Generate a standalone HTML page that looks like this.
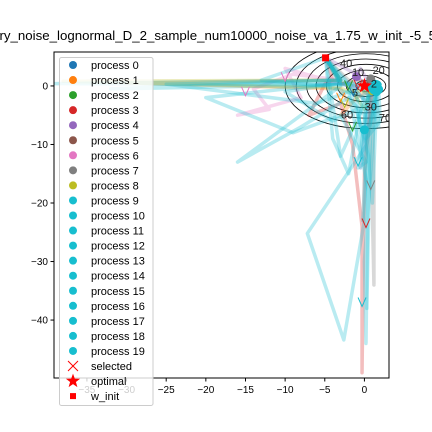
<!DOCTYPE html>
<html><head><meta charset="utf-8"><style>
html,body{margin:0;padding:0;background:#fff;}
svg{display:block;font-family:"Liberation Sans","IPAGothic",sans-serif;}
</style></head><body>
<svg id="chart" width="432" height="432" viewBox="0 0 432 432">
<text x="-44" y="40" font-size="12.5" text-anchor="start" fill="#000" textLength="480" lengthAdjust="spacingAndGlyphs">trajectory_noise_lognormal_D_2_sample_num10000_noise_va_1.75_w_init_-5_5</text>
<defs><clipPath id="plotclip"><rect x="54" y="52" width="335" height="326"/></clipPath></defs>
<g id="plot" clip-path="url(#plotclip)"></g>
<rect x="54" y="52" width="335" height="326" fill="none" stroke="#000" stroke-width="1"/>
<g id="axes"></g>
<g id="legend"></g>
</svg>
<script>
// ---- data ----
const xTicks = [-35, -30, -25, -20, -15, -10, -5, 0];
const yTicks = [0, -10, -20, -30, -40];
const contourLevels = [2, 5, 10, 20, 30, 40, 60, 70];
const contourRx = [1.3, 2.5, 3.6, 5.0, 6.3, 7.5, 8.8, 10.2];
const contourRy = [0.9, 1.8, 2.7, 3.7, 4.6, 5.5, 6.4, 7.3];
const optimal = [0, 0];
const wInit = [-4.9, 4.8];
const processColors = ['#1f77b4','#ff7f0e','#2ca02c','#d62728','#9467bd','#8c564b','#e377c2','#7f7f7f','#bcbd22','#17becf','#17becf','#17becf','#17becf','#17becf','#17becf','#17becf','#17becf','#17becf','#17becf','#17becf'];
const trajectories = [
  [[-4.9,4.8],[-3,1],[-6,0.3],[-2,0.5],[0.5,-3],[-0.5,-14],[0.3,-8],[0.8,-0.5]],
  [[-4.9,4.8],[-3,1],[-30,0.5],[-3,-0.5],[-2,-3],[-3,-5],[-1,-2],[1.5,-0.3]],
  [[-4.9,4.8],[-3,0.6],[-2,0],[-1,-2],[0,-4],[1,0.2]],
  [[-4.9,4.8],[-4,1],[-5,0.3],[-7,-5],[-3,-3],[-1.5,-10],[-0.3,-24],[-0.3,-49],[0,-15],[1,-0.3]],
  [[-4.9,4.8],[-1,2],[-0.5,3],[1,-0.5],[-1,1.6]],
  [[-4.9,4.8],[-3,0.3],[-1,1],[0.8,0.5]],
  [[-4.9,4.8],[-3,1],[-9,2],[-14,-0.5],[-12,-4],[-16,-5],[-8,-2],[-10,3],[-2,0],[1,0]],
  [[-4.9,4.8],[-2,1],[1,-2],[1.2,-17],[1.2,-34],[0.8,-9],[0.8,1.2]],
  [[-4.9,4.8],[-3,1],[-38,0.8],[-3,-0.3],[-2,-1],[1,-0.8]],
  [[-4.9,4.8],[-3,1],[-39,0.4],[-2,0.2],[0,0],[1,-0.4]],
  [[-4.9,4.8],[-3,0],[-16,-13],[-8,-7],[-2,-2],[0,-5],[0,-7.5]],
  [[-4.9,4.8],[-2,0],[0.3,-10],[-7.2,-25.2],[-2.6,-43.4],[0,-23],[0.3,-10],[1.5,-0.5]],
  [[-4.9,4.8],[-3,0.5],[-10,-1],[-4,-6],[-1,-4],[0.5,-12],[0.2,-44],[0,-30],[1.5,-1]],
  [[-4.9,4.8],[-3,1],[-32,-0.5],[-4,0.2],[-1,0.4],[1.5,-0.3],[1,-7],[1.2,0]],
  [[-4.9,4.8],[-4,-9],[-2,-15],[-1,-8],[0,-1],[1,-3],[1.8,-7],[1.5,0]],
  [[-4.9,4.8],[-3,1],[-25,0.3],[-6,-3],[-2,-1],[0.5,-18],[0.3,-38],[0.8,-5],[1.6,-0.5]],
  [[-4.9,4.8],[-3,-12],[-1,-6],[0,-3],[1,-20],[1.5,-4],[1.4,0.3]],
  [[-4.9,4.8],[-13,1],[-5,0],[-1,-1.5],[0.2,-16],[-0.2,-23],[0.5,-2],[1.2,-0.7]],
  [[-4.9,4.8],[-3,0.5],[-20,-2],[-9,-8],[-3,-5],[0.2,-13],[-0.8,-14],[0.5,-1],[1.6,0.2]],
  [[-4.9,4.8],[-1,-1],[0,-2.5],[1.2,-1],[2,0.3],[0.2,-9],[2,-6],[1.8,-0.6]]
];
const selectedPts = [[-0.8,0.2],[-2,0.1],[-3,-2],[-15,-1],[-10,1.5],[0.2,-23.5],[-0.8,-13],[0.8,-17],[-0.3,-37],[-1.4,-1],[-2.5,-3],[-1.5,-7]];
const selectedColors = ['#d62728','#2ca02c','#ff7f0e','#e377c2','#e377c2','#d62728','#17becf','#7f7f7f','#17becf','#1f77b4','#bcbd22','#2ca02c'];

// ---- axes ----
const X0=54,X1=389,Y0=52,Y1=378, xmin=-39.15, xmax=3.1, ymin=-49.9, ymax=5.8;
const sx = v => X0 + (v-xmin)/(xmax-xmin)*(X1-X0);
const sy = v => Y1 - (v-ymin)/(ymax-ymin)*(Y1-Y0);
const NS='http://www.w3.org/2000/svg';
function mk(tag, attrs, parent){const e=document.createElementNS(NS,tag);for(const k in attrs)e.setAttribute(k,attrs[k]);parent.appendChild(e);return e;}
const plot=document.getElementById('plot'), axes=document.getElementById('axes'), legend=document.getElementById('legend');

// contours
contourLevels.forEach((lv,i)=>{
  const el=mk('ellipse',{cx:sx(0.2),cy:sy(0),rx:sx(contourRx[i])-sx(0),ry:sy(0)-sy(contourRy[i]),fill:'none',stroke:'#000','stroke-width':0.8},plot);
  
  
});
// trajectories
trajectories.forEach((tr,i)=>{
  const pl=mk('polyline',{points:tr.map(p=>sx(p[0])+','+sy(p[1])).join(' '),fill:'none',stroke:processColors[i],'stroke-width':3.5,'stroke-opacity':0.3,'stroke-linejoin':'round'},plot);
  
  
});
trajectories.forEach((tr,i)=>{
  const last=tr[tr.length-1];
  const c=mk('circle',{cx:sx(last[0]),cy:sy(last[1]),r:4.5,fill:processColors[i]},plot);
  
  
});
// contour labels
const clabels=[['40',-2.3,3.9],['20',1.8,2.7],['10',-0.8,2.4],['2',1.2,0.4],['5',-1.2,-1.1],['30',0.8,-3.5],['60',-2.2,-4.9],['70',2.6,-5.4]];
clabels.forEach(l=>{const t=mk('text',{x:sx(l[1]),y:sy(l[2])+4,'font-size':11,'text-anchor':'middle',fill:'#222'},plot);t.textContent=l[0];
  
  });
// selected markers
selectedPts.forEach((p,i)=>{
  const x=sx(p[0]),y=sy(p[1]);
  const m=mk('polyline',{points:`${x-4},${y-5} ${x},${y+4} ${x+4},${y-5}`,fill:'none',stroke:selectedColors[i],'stroke-width':1},plot);
  
  
});
// optimal star
function starPts(cx,cy,R,r){let s=[];for(let k=0;k<10;k++){const a=-Math.PI/2+k*Math.PI/5;const rr=k%2?r:R;s.push((cx+rr*Math.cos(a)).toFixed(1)+','+(cy+rr*Math.sin(a)).toFixed(1));}return s.join(' ');}
const st=mk('polygon',{points:starPts(sx(optimal[0]),sy(optimal[1]),8,3.3),fill:'#ff0000'},plot);


const sq=mk('rect',{x:sx(wInit[0])-3.5,y:sy(wInit[1])-3.5,width:7,height:7,fill:'#ff0000'},plot);



// ticks
xTicks.forEach(v=>{const x=sx(v);mk('line',{x1:x,x2:x,y1:Y1,y2:Y1+3.5,stroke:'#000'},axes);
  const t=mk('text',{x:x,y:Y1+15,'font-size':10,'text-anchor':'middle',fill:'#000'},axes);t.textContent=v<0?'\u2212'+(-v):v;
  
  });
yTicks.forEach(v=>{const y=sy(v);mk('line',{x1:X0-3.5,x2:X0,y1:y,y2:y,stroke:'#000'},axes);
  const t=mk('text',{x:X0-6,y:y+3.5,'font-size':10,'text-anchor':'end',fill:'#000'},axes);t.textContent=v<0?'\u2212'+(-v):v;
  
  });

// legend
mk('rect',{x:59.5,y:57.5,width:93.5,height:348,rx:2,fill:'#fff','fill-opacity':0.8,stroke:'#ccc'},legend);
for(let i=0;i<20;i++){
  const y=65+i*15.05;
  const c=mk('circle',{cx:73,cy:y,r:4,fill:processColors[i]},legend);
  
  
  const t=mk('text',{x:91,y:y+4,'font-size':11,fill:'#000'},legend);t.textContent='process '+i;
  
  
}
let ly=65+20*15.05;
mk('line',{x1:68,y1:ly-5,x2:78,y2:ly+5,stroke:'#ff0000'},legend);mk('line',{x1:68,y1:ly+5,x2:78,y2:ly-5,stroke:'#ff0000'},legend);
let t1=mk('text',{x:91,y:ly+4,'font-size':11},legend);t1.textContent='selected';


ly+=15.05;
mk('polygon',{points:starPts(73,ly,7.5,3),fill:'#ff0000'},legend);
let t2=mk('text',{x:91,y:ly+4,'font-size':11},legend);t2.textContent='optimal';


ly+=15.05;
mk('rect',{x:70,y:ly-3,width:6,height:6,fill:'#ff0000'},legend);
let t3=mk('text',{x:91,y:ly+4,'font-size':11},legend);t3.textContent='w_init';


</script>
</body></html>
